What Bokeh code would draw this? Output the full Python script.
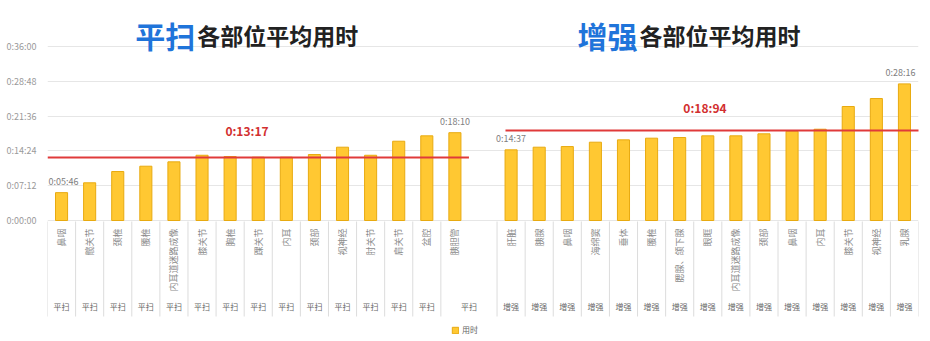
import math
from bokeh.plotting import figure
from bokeh.models import (Range1d, FixedTicker, CustomJSTickFormatter, ColumnDataSource,
                          Legend, LegendItem)
from bokeh.core.properties import value
from bokeh.embed import file_html
from bokeh.resources import INLINE

# ---------------- data ----------------
plain_parts = ["鼻咽", "髋关节", "颈椎", "腰椎", "内耳道迷路成像", "膝关节", "胸椎", "踝关节",
               "内耳", "颈部", "视神经", "肘关节", "肩关节", "盆腔", "胰胆管"]
plain_secs = [346, 468, 608, 674, 728, 810, 794, 786, 786, 819, 910, 810, 984, 1051, 1090]

enh_parts = ["肝脏", "胰腺", "鼻咽", "海绵窦", "垂体", "腰椎", "腮腺、颌下腺", "眼眶",
             "内耳道迷路成像", "颈部", "鼻咽", "内耳", "膝关节", "视神经", "乳腺"]
enh_secs = [877, 910, 918, 972, 1001, 1022, 1030, 1051, 1051, 1076, 1108, 1133, 1415, 1514, 1696]

plain_group = "平扫"
enh_group = "增强"
plain_mean = 782
plain_mean_label = "0:13:17"
enh_mean = 1118
enh_mean_label = "0:18:94"
y_ticks = [0, 432, 864, 1296, 1728, 2160]
series_name = "用时"

FONT = value("Noto Sans CJK SC")

# ---------------- layout helpers ----------------
W, H = 930, 341
LEFT, RIGHT = 47, 12
Y0_PX, YTOP_PX, YTOP_VAL = 220, 46, 2160
SPP = YTOP_VAL / (Y0_PX - YTOP_PX)          # seconds per pixel


def v(py):
    """screen y pixel -> data value"""
    return (Y0_PX - py) * SPP


def fmt(s):
    s = int(round(s))
    return f"{s // 3600}:{(s % 3600) // 60:02d}:{s % 60:02d}"


n = len(plain_parts)
plain_x = list(range(n))
enh_x = [n + 1 + i for i in range(len(enh_parts))]

p = figure(width=W, height=H, output_backend="svg", toolbar_location=None,
           x_range=Range1d(-0.5, len(plain_x) + len(enh_x) + 0.5),
           y_range=Range1d(v(H), v(0)),
           min_border_left=LEFT, min_border_right=RIGHT, min_border_top=0, min_border_bottom=0,
           x_axis_location=None)
p.outline_line_color = None
p.background_fill_color = "white"
p.border_fill_color = "white"

# y axis
p.yaxis.ticker = FixedTicker(ticks=y_ticks)
p.yaxis.formatter = CustomJSTickFormatter(code="""
const s = Math.round(tick);
const h = Math.floor(s/3600), m = Math.floor((s%3600)/60), ss = s%60;
return h + ':' + String(m).padStart(2,'0') + ':' + String(ss).padStart(2,'0');
""")
p.yaxis.axis_line_color = None
p.yaxis.major_tick_line_color = None
p.yaxis.minor_tick_line_color = None
p.yaxis.major_label_text_font = "Noto Sans CJK SC"
p.yaxis.major_label_text_font_size = "9px"
p.yaxis.major_label_text_color = "#9a9a9a"
p.yaxis.major_label_standoff = 5
p.ygrid.ticker = FixedTicker(ticks=y_ticks)
p.ygrid.grid_line_color = "#e6e6e6"
p.xgrid.grid_line_color = None

# bars
src = ColumnDataSource(dict(x=plain_x + enh_x, top=plain_secs + enh_secs))
bars = p.vbar(x="x", top="top", bottom=0, width=0.43, source=src,
              fill_color="#FFC832", line_color="#E8AA10", line_width=1)

# mean lines
p.segment(x0=[-0.5], y0=[plain_mean], x1=[n - 0.5], y1=[plain_mean],
          line_color="#E03A3A", line_width=2)
p.segment(x0=[n + 0.8], y0=[enh_mean], x1=[len(plain_x) + len(enh_x) + 1.5], y1=[enh_mean],
          line_color="#E03A3A", line_width=2)
p.text(x=[6.6, 22.9], y=[v(130), v(107)], text=[plain_mean_label, enh_mean_label],
       text_font=FONT, text_font_size="12px", text_font_style="bold",
       text_color="#D22F2F", text_align="center", text_baseline="middle")

# data labels (first and last of each series)
lab_x = [plain_x[0], plain_x[-1], enh_x[0], enh_x[-1]]
lab_y = [plain_secs[0], plain_secs[-1], enh_secs[0], enh_secs[-1]]
lab_src = ColumnDataSource(dict(x=lab_x, y=lab_y, t=[fmt(s) for s in lab_y],
                                dx=[2, 0, 0, -4]))
p.text(x="x", y="y", text="t", x_offset="dx", y_offset=-5, source=lab_src,
       text_font=FONT, text_font_size="9px", text_color="#808080",
       text_align="center", text_baseline="bottom")

# category labels (vertical)
p.text(x=plain_x + enh_x, y=[0] * (n + len(enh_x)), text=plain_parts + enh_parts,
       angle=math.pi / 2, y_offset=8,
       text_font=FONT, text_font_size="9px", text_color="#8c8c8c",
       text_align="right", text_baseline="middle")

# group labels
gx = plain_x[:-1] + [plain_x[-1] + 0.5] + enh_x
gt = [plain_group] * n + [enh_group] * len(enh_x)
p.text(x=gx, y=[v(306)] * len(gx), text=gt,
       text_font=FONT, text_font_size="8px", text_color="#666666",
       text_align="center", text_baseline="middle")

# separators
seps = [x - 0.5 for x in plain_x] + [x - 0.5 for x in enh_x] + [enh_x[-1] + 0.5]
p.segment(x0=seps, y0=[v(221)] * len(seps), x1=seps, y1=[v(316)] * len(seps),
          line_color="#dcdcdc", line_width=1)

# titles
p.text(x=[4.76, 20.5], y=[v(34)] * 2, text=[plain_group, enh_group],
       text_font=FONT, text_font_size="30px", text_font_style="bold",
       text_color="#1F74DA", text_align="right", text_baseline="alphabetic")
p.text(x=[4.76, 20.5], y=[v(34)] * 2, text=["各部位平均用时"] * 2, x_offset=2,
       text_font=FONT, text_font_size="23px", text_font_style="bold",
       text_color="#222222", text_align="left", text_baseline="alphabetic")

# legend
legend = Legend(items=[LegendItem(label=series_name, renderers=[bars])],
                location=(404, 6), orientation="horizontal",
                padding=0, margin=0, spacing=0,
                glyph_width=8, glyph_height=8, label_height=10, label_standoff=3,
                label_text_font="Noto Sans CJK SC", label_text_font_size="8px",
                label_text_color="#666666",
                border_line_color=None, background_fill_alpha=0)
p.add_layout(legend)

open("out.html", "w").write(file_html(p, INLINE))
